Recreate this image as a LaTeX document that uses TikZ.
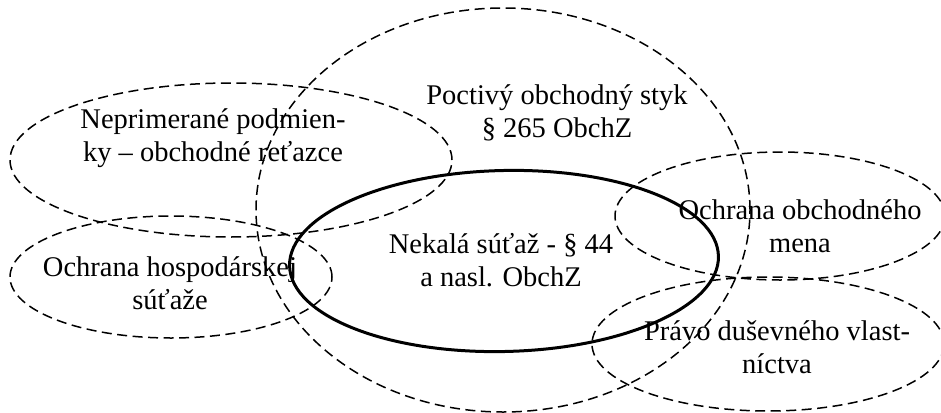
\documentclass[tikz,border=0pt]{standalone}
\usepackage{fontspec}
\setmainfont{Liberation Serif}
\begin{document}
\begin{tikzpicture}[x=1pt,y=-1pt,
  dashedell/.style={draw=black, line width=1.5pt, dash pattern=on 10pt off 5.5pt},
  solidell/.style={draw=black, line width=3pt},
  lbl/.style={align=center, inner sep=0pt, font=\fontsize{28.5}{33}\selectfont}]
\useasboundingbox (0,0) rectangle (941,412);
\clip (0,0) rectangle (941,412);
% ellipses
\draw[dashedell] (503,210) ellipse [x radius=247pt, y radius=202pt];
\draw[dashedell] (231,160) ellipse [x radius=221pt, y radius=77pt];
\draw[dashedell] (171,277) ellipse [x radius=161pt, y radius=61pt];
\draw[dashedell] (780,216) ellipse [x radius=165pt, y radius=64pt];
\draw[dashedell] (768,344) ellipse [x radius=176pt, y radius=67pt];
\draw[solidell, shift={(504,261)}, rotate=1.3] (0,0) ellipse [x radius=214.5pt, y radius=90.5pt];
% labels
\node[lbl] (poctivy) at (557,113) {Poctivý obchodný styk\\§ 265 ObchZ};
\node[lbl] (neprim) at (213,138) {Neprimerané podmien-\\ky – obchodné reťazce};
\node[lbl] (nekala) at (501,260) {Nekalá súťaž - § 44\\a nasl. ObchZ};
\node[lbl] (hosp) at (170,283) {Ochrana hospodárskej\\súťaže};
\node[lbl] (meno) at (800,226) {Ochrana obchodného\\mena};
\node[lbl] (pravo) at (777,347) {Právo duševného vlast-\\níctva};
\end{tikzpicture}
\end{document}
